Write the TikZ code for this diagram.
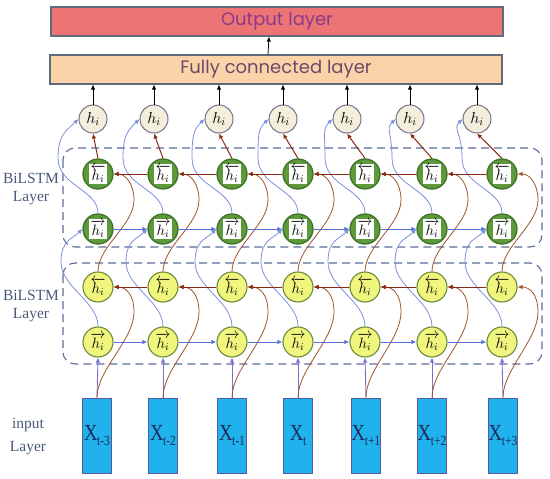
\documentclass[tikz,border=0pt]{standalone}
\usepackage{fix-cm}
\usepackage{fontspec}
\setmainfont{Liberation Serif}
\newfontfamily\titlefont{Poppins}
\usetikzlibrary{arrows.meta}
\definecolor{outred}{HTML}{ED7474}
\definecolor{fcpeach}{HTML}{FBD3A8}
\definecolor{boxgray}{HTML}{5F6B7A}
\definecolor{outtext}{HTML}{8A3A8A}
\definecolor{fctext}{HTML}{6A4A6A}
\definecolor{gfill}{HTML}{5E9A3C}
\definecolor{gborder}{HTML}{3E7428}
\definecolor{yfill}{HTML}{F0F57E}
\definecolor{yborder}{HTML}{6C8A3A}
\definecolor{hfill}{HTML}{F4EEDC}
\definecolor{hborder}{HTML}{7A7088}
\definecolor{xfill}{HTML}{20B2EC}
\definecolor{xborder}{HTML}{5A5A9A}
\definecolor{xtext}{HTML}{1A2A5A}
\definecolor{dashcol}{HTML}{5A6A9A}
\definecolor{labcol}{HTML}{4A5A7A}
\definecolor{fwdblue}{HTML}{5570D8}
\definecolor{curveblue}{HTML}{7A90DC}
\definecolor{bwdbrown}{HTML}{8B2A10}
\definecolor{curvebrown}{HTML}{A0522D}
\definecolor{inpurple}{HTML}{7B6FD0}
\newcommand{\wbox}[1]{{\setlength\fboxsep{1.5pt}\colorbox{white}{#1}}}
\begin{document}
\begin{tikzpicture}[x=1pt,y=-1pt,
  layerbox/.style={draw=boxgray,line width=1.1pt,minimum width=452pt,minimum height=29pt,inner sep=0pt},
  hnode/.style={circle,draw=hborder,fill=hfill,line width=1pt,minimum size=28pt,inner sep=0pt,font=\fontsize{16}{18}\selectfont},
  gnode/.style={circle,draw=gborder,fill=gfill,line width=1.3pt,minimum size=30pt,inner sep=0pt,font=\fontsize{15}{17}\selectfont},
  ynode/.style={circle,draw=yborder,fill=yfill,line width=1.1pt,minimum size=30pt,inner sep=0pt,font=\fontsize{15}{17}\selectfont},
  xbox/.style={draw=xborder,fill=xfill,line width=1pt,minimum width=29.5pt,minimum height=75pt,inner sep=0pt,text=xtext},
  dashbox/.style={draw=dashcol,line width=1.1pt,dash pattern=on 8pt off 5pt,rounded corners=12pt},
  sidelab/.style={text=labcol,font=\fontsize{15.5}{18}\selectfont,align=center},
  tip/.style={-{Latex[length=5pt,width=4.5pt]}},
  fwdarr/.style={tip,draw=fwdblue,line width=1pt},
  bwdarr/.style={tip,draw=bwdbrown,line width=1pt},
  bcurve/.style={tip,draw=curveblue,line width=0.8pt},
  rcurve/.style={tip,draw=curvebrown,line width=0.8pt},
  uparr/.style={tip,draw=black,line width=0.8pt},
  inarr/.style={tip,draw=inpurple,line width=0.9pt}
]
\useasboundingbox (0,0) rectangle (550,479);
\node[layerbox,fill=outred,text=outtext,font=\titlefont\fontsize{18}{20}\selectfont] (out) at (277,21.5) {Output layer};
\node[layerbox,fill=fcpeach,text=fctext,font=\titlefont\fontsize{18}{20}\selectfont] (fc) at (276,69.5) {Fully connected layer};
\draw[uparr] ([xshift=-8pt]fc.north) -- ([xshift=-8pt]out.south);
\draw[dashbox] (63,148) rectangle (542,247);
\draw[dashbox] (63,263) rectangle (542,364);
\node[sidelab] (lab1) at (31,189) {BiLSTM\\Layer};
\node[sidelab] (lab2) at (31,306) {BiLSTM\\Layer};
\node[sidelab,font=\fontsize{15.5}{23}\selectfont] (lab3) at (28,437) {input\\Layer};
\foreach \i/\c/\t/\x/\s in {1/98/93/97/t-3,2/163/154/163/t-2,3/232/219/232/t-1,4/298/283/298/t,5/365/347/366/t+1,6/432/410/432/t+2,7/502/477/503/t+3}{
  \node[hnode] (h\i) at (\t,119) {$h_i$};
  \node[gnode] (gb\i) at (\c,174) {\wbox{$\overleftarrow{h_i}$}};
  \node[gnode] (gf\i) at (\c,229) {\wbox{$\overrightarrow{h_i}$}};
  \node[ynode] (yb\i) at (\c,287) {$\overleftarrow{h_i}$};
  \node[ynode] (yf\i) at (\c,342) {$\overrightarrow{h_i}$};
  \node[xbox] (x\i) at (\x,435.5) {\scalebox{0.82}[1]{\fontsize{23}{23}\selectfont X\kern-0.5pt\raisebox{-4.5pt}{\fontsize{14}{14}\selectfont\s}}};
  \draw[uparr] (h\i.north) -- (h\i.north |- fc.south);
  \draw[bwdarr] (gb\i.north) -- (h\i.south);
  \draw[inarr] (x\i.north) -- (yf\i.south);
  \draw[rcurve] (x\i.north) .. controls +(0,-28) and +(0,28) .. ({\c+36},312) .. controls +(0,-18) and +(12,0) .. (yb\i.east);
  \draw[rcurve] (yb\i.north) .. controls +(0,-25) and +(0,25) .. ({\c+36},200) .. controls +(0,-16) and +(12,0) .. (gb\i.east);
  \draw[bcurve] (yf\i.north) .. controls +(0,-25) and +(0,25) .. ({\c-37},262) .. controls +(0,-22) and +(-10,10) .. (gf\i.west);
  \draw[bcurve] (gf\i.north) .. controls +(0,-24) and +(0,28) .. ({\c-40},158) .. controls +(0,-25) and +(-10,10) .. (h\i.west);
}
\foreach \i/\j in {1/2,2/3,3/4,4/5,5/6,6/7}{
  \draw[fwdarr] (gf\i) -- (gf\j);
  \draw[fwdarr] (yf\i) -- (yf\j);
  \draw[bwdarr] (gb\j) -- (gb\i);
  \draw[bwdarr] (yb\j) -- (yb\i);
}
\end{tikzpicture}
\end{document}
